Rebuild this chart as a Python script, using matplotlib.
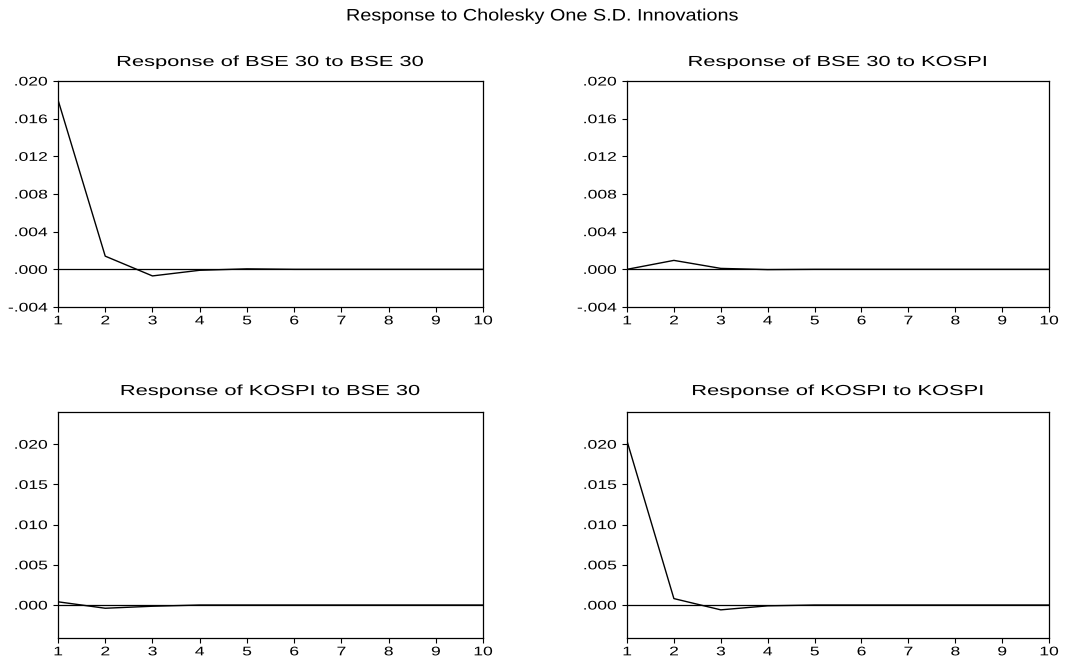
import matplotlib
matplotlib.use("Agg")
import matplotlib.pyplot as plt
from matplotlib.ticker import FuncFormatter
from matplotlib.patheffects import AbstractPathEffect
from matplotlib.transforms import Affine2D

plt.rcParams['font.family'] = ['Liberation Sans', 'DejaVu Sans']

periods = [1, 2, 3, 4, 5, 6, 7, 8, 9, 10]
bse_to_bse = [0.0180, 0.0014, -0.0007, -0.0001, 0.00005, 0.0, 0.0, 0.0, 0.0, 0.0]
bse_to_kospi = [0.0, 0.00095, 0.0001, -0.00003, 0.0, 0.0, 0.0, 0.0, 0.0, 0.0]
kospi_to_bse = [0.0004, -0.0004, -0.00015, 0.0, 0.0, 0.0, 0.0, 0.0, 0.0, 0.0]
kospi_to_kospi = [0.0204, 0.0008, -0.0006, -0.0001, 0.0, 0.0, 0.0, 0.0, 0.0, 0.0]

main_title = "Response to Cholesky One S.D. Innovations"
titles = ["Response of BSE 30 to BSE 30", "Response of BSE 30 to KOSPI",
          "Response of KOSPI to BSE 30", "Response of KOSPI to KOSPI"]
series = [bse_to_bse, bse_to_kospi, kospi_to_bse, kospi_to_kospi]
yticks_top = [-0.004, 0.000, 0.004, 0.008, 0.012, 0.016, 0.020]
yticks_bot = [0.000, 0.005, 0.010, 0.015, 0.020]


class StretchX(AbstractPathEffect):
    """Draw text glyphs horizontally stretched (wide EViews-style lettering)."""
    def __init__(self, sx, anchor):
        super().__init__()
        self.sx = sx
        self.anchor = anchor

    def draw_path(self, renderer, gc, tpath, affine, rgbFace=None):
        if len(tpath.vertices):
            w = tpath.get_extents().x1
        else:
            w = 0
        a = Affine2D().scale(self.sx, 1).translate(-(self.sx - 1) * w * self.anchor, 0)
        renderer.draw_path(gc, tpath, a + affine, rgbFace)


W, H = 1084, 662
fig = plt.figure(figsize=(W / 100, H / 100), dpi=100)

# axes boxes in pixels: (left, top, right, bottom)
boxes = [(58, 81, 483, 307), (627, 81, 1049, 307),
         (58, 412, 483, 638), (627, 412, 1049, 638)]
title_pads = [10.8, 10.8, 12.2, 12.2]


def fmt(v, pos):
    s = f"{v:.3f}"
    if s.startswith("0"):
        s = s[1:]
    elif s.startswith("-0"):
        s = "-" + s[2:]
    return s


for i, (b, t, y) in enumerate(zip(boxes, titles, series)):
    l, tp, r, bt = b
    ax = fig.add_axes([l / W, 1 - bt / H, (r - l) / W, (bt - tp) / H])
    ax.plot(periods, y, color='black', lw=1.0)
    ax.axhline(0, color='black', lw=0.9)
    ax.set_xlim(1, 10)
    ax.set_xticks(periods)
    if i < 2:
        ax.set_ylim(-0.004, 0.020)
        ax.set_yticks(yticks_top)
    else:
        ax.set_ylim(-0.0041, 0.024)
        ax.set_yticks(yticks_bot)
    ax.yaxis.set_major_formatter(FuncFormatter(fmt))
    ax.tick_params(axis='both', direction='out', length=3.5, width=0.8,
                   labelsize=9, colors='black')
    ax.tick_params(axis='x', pad=2.5)
    ax.tick_params(axis='y', pad=4.0)
    for sp in ax.spines.values():
        sp.set_linewidth(0.9)
        sp.set_color('black')
    ttl = ax.set_title(t, fontsize=10.5, pad=title_pads[i])
    ttl.set_path_effects([StretchX(1.5, 0.5)])
    for lab in ax.get_xticklabels():
        lab.set_path_effects([StretchX(1.4, 0.5)])
    for lab in ax.get_yticklabels():
        lab.set_path_effects([StretchX(1.4, 1.0)])

st = fig.suptitle(main_title, fontsize=12, y=1 - 20.5 / H, va='baseline')
st.set_path_effects([StretchX(1.19, 0.5)])
fig.savefig("out.png", dpi=100)
